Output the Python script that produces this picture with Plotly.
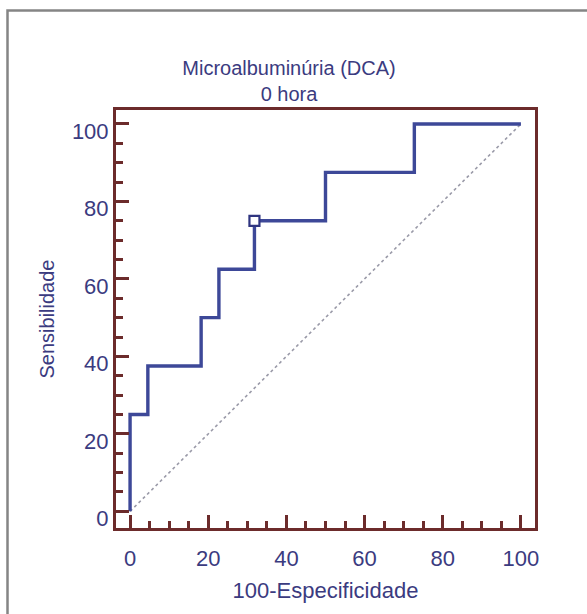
import plotly.graph_objects as go

# ROC curve data (100-Especificidade vs Sensibilidade)
fpr = [0, 0, 4.55, 18.18, 22.73, 31.82, 50, 72.73, 100]
tpr = [0, 25, 37.5, 50, 62.5, 75, 87.5, 100, 100]
cut_x = [31.82]
cut_y = [75]
diag_x = [0, 100]
diag_y = [0, 100]
tick_vals = [0, 20, 40, 60, 80, 100]

NAVY = "#3b3b7f"
LINE = "#3d4898"
FRAME = "#6c2b2b"
FONT = "Liberation Sans, Arial, sans-serif"

fig = go.Figure()
fig.add_trace(go.Scatter(x=diag_x, y=diag_y, mode="lines",
                         line=dict(color="#9a9aa8", width=1.6, dash="dot"),
                         hoverinfo="skip", showlegend=False))
fig.add_trace(go.Scatter(x=fpr, y=tpr, mode="lines", line_shape="hv",
                         line=dict(color=LINE, width=3.4), showlegend=False))
fig.add_trace(go.Scatter(x=cut_x, y=cut_y, mode="markers",
                         marker=dict(symbol="square", size=10, color="white",
                                     line=dict(color="#2f3580", width=2.2)),
                         showlegend=False))

axis_common = dict(
    showgrid=False, zeroline=False, showline=True, mirror=True,
    linecolor=FRAME, linewidth=3,
    ticks="inside", ticklen=13, tickwidth=2.5, tickcolor=FRAME,
    tickvals=tick_vals, ticktext=[str(v) for v in tick_vals],
    tickfont=dict(family=FONT, size=22, color=NAVY),
    minor=dict(ticks="inside", dtick=5, ticklen=7, tickwidth=2.5, tickcolor=FRAME),
)

fig.update_layout(
    width=587, height=614,
    margin=dict(l=116, r=52, t=110, b=86),
    paper_bgcolor="white", plot_bgcolor="white",
    title=dict(text="Microalbuminúria (DCA)<br>0 hora", x=289/587, xanchor="center",
               xref="container", y=1 - 75/614, yanchor="middle",
               font=dict(family=FONT, size=20, color=NAVY)),
    xaxis=dict(range=[-3.6, 103.6], ticklabelstandoff=9,
               title=dict(text="100-Especificidade", standoff=13,
                          font=dict(family=FONT, size=22, color=NAVY)),
               **axis_common),
    yaxis=dict(range=[-4.3, 103.6], ticklabelshift=7,
               title=dict(text="Sensibilidade", standoff=12,
                          font=dict(family=FONT, size=20, color=NAVY)),
               **axis_common),
    shapes=[dict(type="path", xref="paper", yref="paper",
                 path="M {x0},{y0} L {x0},{y1} L {x2},{y1}".format(
                     x0=(7.5 - 116) / 419, y0=(528 - 640) / 418,
                     y1=(528 - 10.5) / 418, x2=(600 - 116) / 419),
                 line=dict(color="#858585", width=2.5))],
)

fig.write_html("out.html")
